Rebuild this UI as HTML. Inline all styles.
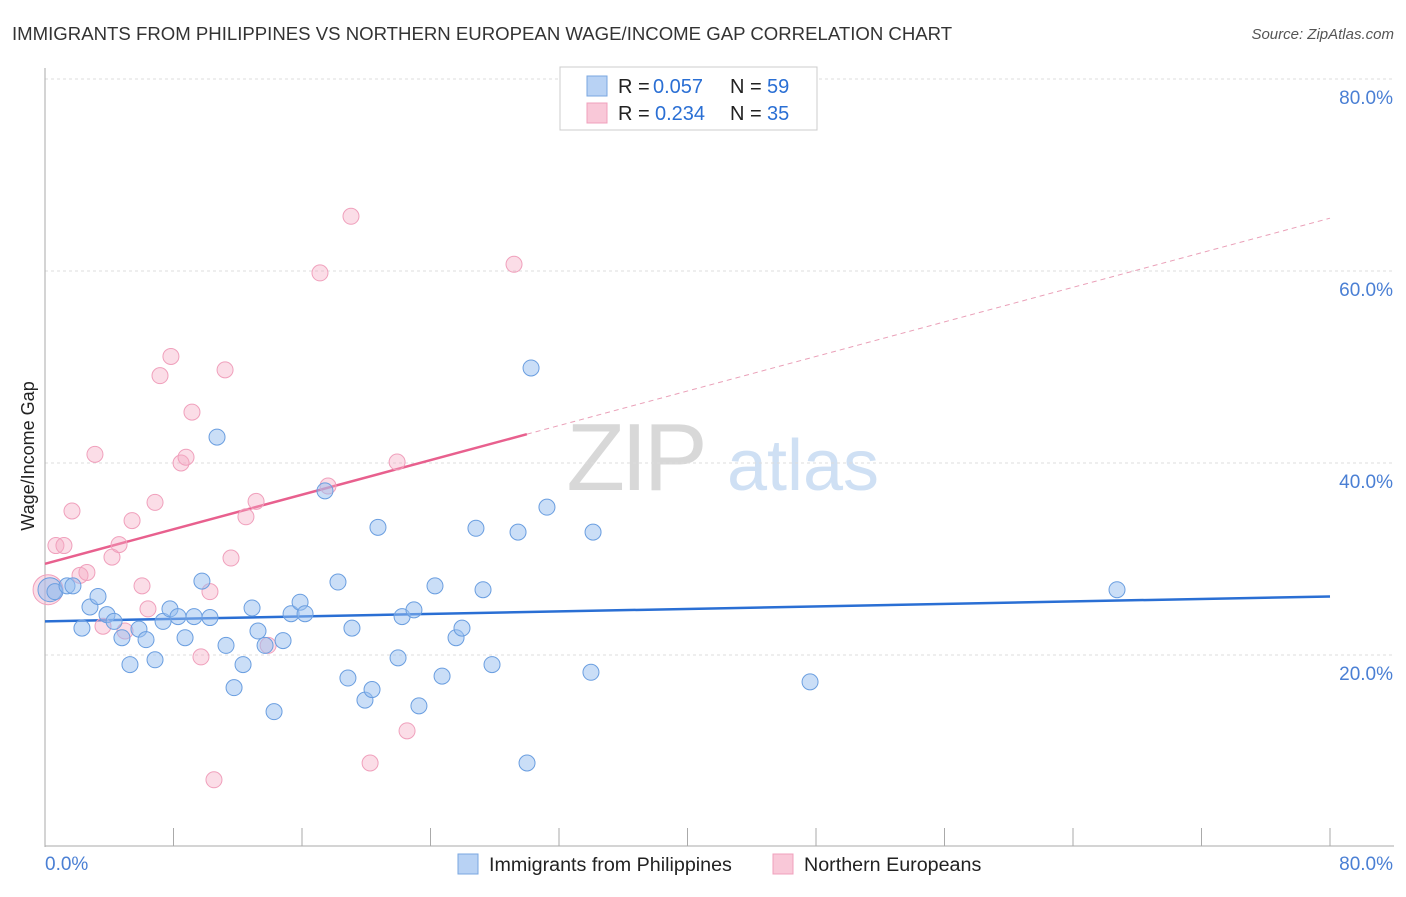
<!DOCTYPE html>
<html><head><meta charset="utf-8"><style>
body{margin:0;background:#fff;font-family:"Liberation Sans",sans-serif}
svg text{font-family:"Liberation Sans",sans-serif}
</style></head><body>
<svg id="chart" width="1406" height="892" xmlns="http://www.w3.org/2000/svg">
<text x="12" y="40" font-size="18.6" fill="#333">IMMIGRANTS FROM PHILIPPINES VS NORTHERN EUROPEAN WAGE/INCOME GAP CORRELATION CHART</text>
<text x="1394" y="39" font-size="15" fill="#555" font-style="italic" text-anchor="end">Source: ZipAtlas.com</text>
<g>
<text x="635" y="490" font-size="96" fill="#d8d8d8" font-family="Liberation Serif" text-anchor="middle" letter-spacing="-4">ZIP</text>
<text x="803" y="490" font-size="72" fill="#cfe0f4" text-anchor="middle">atlas</text>
</g>
<g id="grid"></g>
<g id="axes"></g>
<g id="trends"></g>
<g id="pts"></g>
<text transform="translate(34,456) rotate(-90)" font-size="18" fill="#222" text-anchor="middle">Wage/Income Gap</text>
<g>
<rect x="560" y="67" width="257" height="63" fill="#fff" stroke="#ccc"/>
<rect x="587" y="76" width="20" height="20" fill="#b8d2f4" stroke="#7aa7e0"/>
<rect x="587" y="103" width="20" height="20" fill="#f9c8d8" stroke="#f0a0bc"/>
<text x="618" y="93" font-size="20" fill="#222">R = </text>
<text x="653" y="93" font-size="20" fill="#2a6fd4">0.057</text>
<text x="730" y="93" font-size="20" fill="#222">N = </text>
<text x="767" y="93" font-size="20" fill="#2a6fd4">59</text>
<text x="618" y="120" font-size="20" fill="#222">R = </text>
<text x="655" y="120" font-size="20" fill="#2a6fd4">0.234</text>
<text x="730" y="120" font-size="20" fill="#222">N = </text>
<text x="767" y="120" font-size="20" fill="#2a6fd4">35</text>
</g>
<g>
<rect x="458" y="854" width="20" height="20" fill="#b8d2f4" stroke="#7aa7e0"/>
<text x="489" y="871" font-size="19.7" fill="#222">Immigrants from Philippines</text>
<rect x="773" y="854" width="20" height="20" fill="#f9c8d8" stroke="#f0a0bc"/>
<text x="804" y="871" font-size="19.7" fill="#222">Northern Europeans</text>
</g>
</svg>
<script>
const blueX=[0.31,0.62,1.37,1.74,2.30,2.80,3.30,3.86,4.30,4.79,5.29,5.85,6.29,6.85,7.35,7.78,8.28,8.72,9.28,9.77,10.27,11.27,10.71,11.77,12.33,12.89,13.26,13.70,14.26,14.82,15.32,15.88,16.19,17.43,18.24,18.86,19.11,19.92,20.36,20.73,21.98,22.23,22.97,23.28,24.28,24.72,25.59,25.96,26.83,27.27,27.83,29.45,30.01,30.26,31.25,33.99,34.12,47.63,66.74];
const blueY=[26.8,26.6,27.2,27.2,22.8,25.0,26.1,24.2,23.5,21.8,19.0,22.7,21.6,19.5,23.5,24.8,24.0,21.8,24.0,27.7,23.9,21.0,42.7,16.6,19.0,24.9,22.5,21.0,14.1,21.5,24.3,25.5,24.3,37.1,27.6,17.6,22.8,15.3,16.4,33.3,19.7,24.0,24.7,14.7,27.2,17.8,21.8,22.8,33.2,26.8,19.0,32.8,8.75,49.9,35.4,18.2,32.8,17.2,26.8];
const pinkX=[0.19,0.68,1.18,1.68,2.18,2.61,3.11,3.61,4.17,4.61,4.98,5.42,6.04,6.41,6.85,7.16,7.84,8.47,8.78,9.15,9.71,10.27,10.52,11.21,11.58,12.51,13.14,13.89,17.12,17.62,19.05,20.24,21.92,22.54,29.20];
const pinkY=[26.8,31.4,31.4,35.0,28.3,28.6,40.9,23.0,30.2,31.5,22.5,34.0,27.2,24.8,35.9,49.1,51.1,40.0,40.6,45.3,19.8,26.6,7.0,49.7,30.1,34.4,36.0,21.0,59.8,37.6,65.7,8.75,40.1,12.1,60.7];
const blueTrend=[23.5,26.1];
const pinkTrend=[29.5,65.5];
const yTicks=[20,40,60,80];
const NS="http://www.w3.org/2000/svg";
const sx=v=>45+v/80*1285, sy=v=>847-v*9.6;
function mk(p,t,a){const e=document.createElementNS(NS,t);for(const k in a)e.setAttribute(k,a[k]);p.appendChild(e);return e;}
const grid=document.getElementById('grid'),axes=document.getElementById('axes'),tr=document.getElementById('trends'),pts=document.getElementById('pts');
yTicks.forEach(t=>{const l=mk(grid,'line',{x1:45,x2:1394,y1:sy(t),y2:sy(t),stroke:'#ddd','stroke-dasharray':'3,3'});


const tx=mk(axes,'text',{x:1393,y:sy(t)+25,'font-size':19,fill:'#4a7fd4','text-anchor':'end'});tx.textContent=t+'.0%';

});
mk(axes,'line',{x1:45,x2:45,y1:68,y2:847,stroke:'#aaa'});
mk(axes,'line',{x1:45,x2:1394,y1:846,y2:846,stroke:'#aaa'});
for(let i=0;i<=10;i++){mk(axes,'line',{x1:sx(i*8),x2:sx(i*8),y1:828,y2:846,stroke:'#aaa'});}
let t0=mk(axes,'text',{x:45,y:870,'font-size':19,fill:'#4a7fd4'});t0.textContent='0.0%';


let t1=mk(axes,'text',{x:1393,y:870,'font-size':19,fill:'#4a7fd4','text-anchor':'end'});t1.textContent='80.0%';


function dot(x,y,r,f,s,n){const c=mk(pts,'circle',{cx:sx(x),cy:sy(y),r:r,fill:f,stroke:s,'stroke-width':1});

}
pinkX.forEach((x,i)=>dot(x,pinkY[i],i==0?15:8,'rgba(245,170,195,0.4)','#f0a0bc','pink-point'));
blueX.forEach((x,i)=>dot(x,blueY[i],i==0?12:8,'rgba(150,190,240,0.5)','#6a9ee0','blue-point'));
let bl=mk(tr,'line',{x1:sx(0),y1:sy(blueTrend[0]),x2:sx(80),y2:sy(blueTrend[1]),stroke:'#2a6fd4','stroke-width':2.5});


const pm=pinkTrend[0]+(pinkTrend[1]-pinkTrend[0])*30/80;
let pl=mk(tr,'line',{x1:sx(0),y1:sy(pinkTrend[0]),x2:sx(30),y2:sy(pm),stroke:'#e8608e','stroke-width':2.5});


let pd=mk(tr,'line',{x1:sx(30),y1:sy(pm),x2:sx(80),y2:sy(pinkTrend[1]),stroke:'#eaa0b8','stroke-width':1,'stroke-dasharray':'5,4'});


</script>
</body></html>
